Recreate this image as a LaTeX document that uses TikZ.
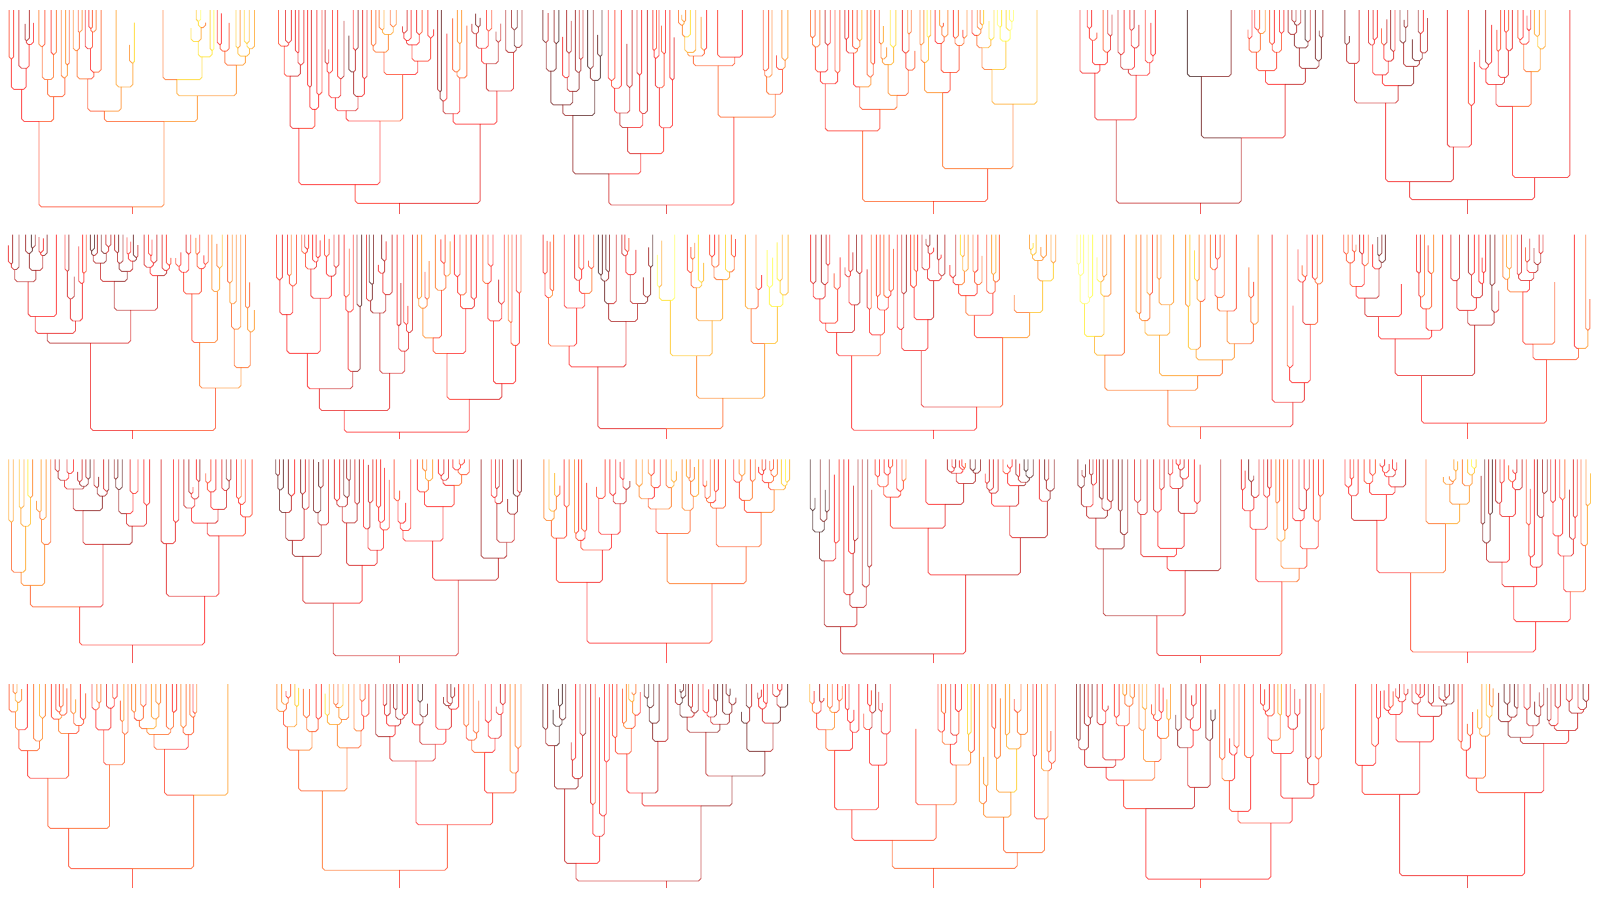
\documentclass[tikz,border=0pt]{standalone}
\newcount\rs \newcount\rhi \newcount\rlo \newcount\rtmp
\def\nextu{%
 \rhi=\rs \divide\rhi 127773
 \rlo=\rhi \multiply\rlo -127773 \advance\rlo\rs
 \multiply\rlo 16807
 \rtmp=\rhi \multiply\rtmp 2836
 \advance\rlo-\rtmp
 \ifnum\rlo<1 \advance\rlo 2147483647 \fi
 \global\rs=\rlo
 \rtmp=\rs \divide\rtmp 10000 \multiply\rtmp -10000 \advance\rtmp\rs
 \edef\ru{0.\ifnum\rtmp<1000 0\fi\ifnum\rtmp<100 0\fi\ifnum\rtmp<10 0\fi\the\rtmp}%
}
\def\setdcol#1{%
 \pgfmathsetmacro\dcr{min(1,0.15+#1*2.2)}%
 \pgfmathsetmacro\dcg{min(1,max(0,(#1-0.45)*2.2))}%
 \pgfmathsetmacro\dcb{min(1,max(0,(#1-0.85)*3))}%
 \definecolor{dcol}{rgb}{\dcr,\dcg,\dcb}}
\def\dnode#1#2#3#4#5{%
 \begingroup
  \pgfmathsetmacro\cx{(#1+#2)/2}%
  \pgfmathsetmacro\dw{#2-#1}%
  \pgfmathsetmacro\dh{#4-\ytop}%
  \nextu
  \pgfmathtruncatemacro\isleaf{(\dw<7)||(\dh<6)||((\ru<0.05)&&(\dw<60))}%
  \setdcol{#5}%
  \nextu
  \ifnum\isleaf=1
    \pgfmathsetmacro\ty{\ru<0.22 ? #4-(0.2+3.2*\ru)*\dh : \ytop}%
    \def\dnext{}%
  \else
    \pgfmathsetmacro\ty{#4>\yb-0.5 ? #4-(0.03+0.07*\ru)*\dh : #4-(0.08+0.4*\ru)*\dh}%
    \nextu \pgfmathsetmacro\sx{#1+\dw*(0.25+0.5*\ru)}%
    \nextu \pgfmathsetmacro\va{min(1,max(0,#5+(\ru-0.5)*0.28))}%
    \nextu \pgfmathsetmacro\vb{min(1,max(0,#5+(\ru-0.5)*0.28))}%
    \edef\dnext{\noexpand\dnode{#1}{\sx}{\cx}{\ty}{\va}\noexpand\dnode{\sx}{#2}{\cx}{\ty}{\vb}}%
  \fi
  \pgfmathsetmacro\ddx{\cx-#3}%
  \pgfmathsetmacro\dk{min(2.5,abs(\ddx),(#4-\ty)/2)}%
  \pgfmathsetmacro\ex{\ddx>0 ? \cx-\dk : \cx+\dk}%
  \pgfmathsetmacro\ey{#4-\dk}%
  \draw[br] (#3,#4) -- (\ex,#4) -- (\cx,\ey) -- (\cx,\ty);
 \expandafter\endgroup\dnext}
\begin{document}
\begin{tikzpicture}[x=1pt,y=-1pt]
\tikzset{br/.style={draw=dcol,line width=0.9pt,draw opacity=0.65,line join=round}}
\fill[white] (0,0) rectangle (1600,900);
\useasboundingbox (0,0) rectangle (1600,900);
\foreach \pr in {0,...,3}{\foreach \pc in {0,...,5}{
  \pgfmathsetmacro\xl{7+\pc*267}
  \pgfmathsetmacro\xr{\xl+250}
  \pgfmathsetmacro\ytop{10+\pr*224.7}
  \pgfmathsetmacro\yb{\ytop+204}
  \pgfmathsetmacro\xm{(\xl+\xr)/2}
  \global\rs=\numexpr 1234567+\pr*1000003+\pc*77777\relax
  \nextu\nextu
  \pgfmathsetmacro\vz{0.32+0.2*\ru}
  \dnode{\xl}{\xr}{\xm}{\yb}{\vz}
}}
\end{tikzpicture}
\end{document}
